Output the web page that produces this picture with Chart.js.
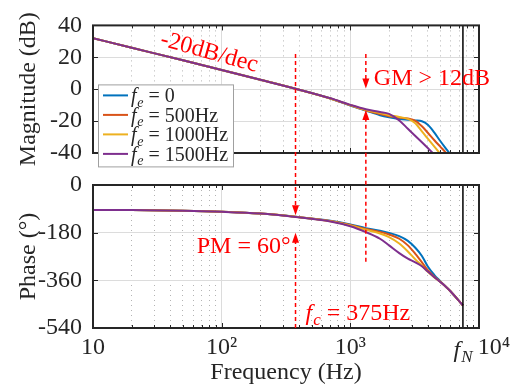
<!DOCTYPE html>
<html>
<head>
<meta charset="utf-8">
<script src="https://cdn.jsdelivr.net/npm/chart.js@4.4.0/dist/chart.umd.min.js"></script>
<style>
  html, body { margin: 0; padding: 0; background: #fff; }
  #wrap { position: relative; width: 523px; height: 391px; }
  #wrap canvas { position: absolute; left: 0; top: 0; }
</style>
</head>
<body>
<div id="wrap">
  <canvas id="magCanvas" width="523" height="391"></canvas>
  <canvas id="phaseCanvas" width="523" height="391"></canvas>
</div>
<script>
// frequency points (Hz) shared by all curves
const freqHz = [10, 20, 50, 100, 200, 375, 700, 1000, 1320, 1700, 2000, 2400, 2800, 3200, 3600, 4000, 4500, 5000, 5500, 6000, 7500];

// magnitude (dB) for each f_e
const magFe0    = [32, 26, 18.1, 12, 5.9, 0.3, -5.8, -10.2, -13.4, -16.3, -17.6, -18.7, -19.2, -19.6, -20.1, -22.3, -27.2, -32.5, -37, -41, -55];
const magFe500  = [32, 26, 18.1, 12, 5.9, 0.3, -5.8, -10.1, -13.2, -15.6, -16.9, -17.8, -18.4, -19.8, -23.2, -27.3, -32, -36, -39.6, -43, -55];
const magFe1000 = [32, 26, 18.1, 12, 5.9, 0.3, -5.8, -10, -13, -15, -16.3, -17.4, -18.6, -21.3, -26.5, -31, -36, -40.5, -44, -48, -60];
const magFe1500 = [32, 26, 18.1, 12, 5.9, 0.3, -5.7, -9.8, -12.6, -14.3, -15.5, -19.6, -24.8, -29.3, -33.3, -36.9, -41, -45, -48, -51, -60];

// phase (deg) for each f_e
const phaseFe0    = [-94, -94.5, -97, -101, -108, -120, -135, -149, -163, -173, -181, -193, -211, -237, -268, -308, -340, -363, -383, -401, -455];
const phaseFe500  = [-94, -94.5, -97, -101, -108, -120, -136, -151, -166, -177, -187, -203, -228, -260, -292, -322, -346, -365, -383, -401, -455];
const phaseFe1000 = [-94, -94.5, -97, -101, -108, -120, -137, -153, -169, -183, -197, -221, -251, -281, -305, -328, -349, -366, -383, -401, -455];
const phaseFe1500 = [-94, -94.5, -97, -101, -108, -121, -138, -156, -178, -203, -228, -257, -278, -292, -307, -327, -348, -366, -383, -401, -455];

const seriesNames = ['0', '500Hz', '1000Hz', '1500Hz'];
const seriesColors = ['#0072BD', '#D95319', '#EDB120', '#7E2F8E'];

// axis ticks
const magTicks = [-40, -20, 0, 20, 40];
const phaseTicks = [-540, -360, -180, 0];
const xDecades = [10, 100, 1000, 10000];
const xTickLabels = ['10', '10²', '10³', '     10⁴'];

// marked frequencies
const fc = 375;     // crossover
const fGM = 1320;   // gain margin check
const fN = 7500;    // Nyquist

const serif = '"Liberation Serif", "Times New Roman", serif';
const textColor = '#262626';
const red = '#ff0000';
const majorGrid = '#dcdcdc';
const minorGrid = '#b4b4b4';

// every minor/major grid position 10..10^4
const xGridTicks = [];
[10, 100, 1000].forEach(d => { for (let k = 1; k < 10; k++) xGridTicks.push(k * d); });
xGridTicks.push(10000);

const isDecade = v => xDecades.includes(v);

function freqScale(showLabels, height) {
  return {
    type: 'logarithmic',
    min: 10,
    max: 10000,
    afterBuildTicks: s => { s.ticks = xGridTicks.map(v => ({ value: v })); },
    afterFit: s => { s.height = height; },
    ticks: {
      display: showLabels,
      autoSkip: false,
      maxRotation: 0,
      minRotation: 0,
      padding: 5,
      color: textColor,
      font: { family: serif, size: 24 },
      callback: v => { const i = xDecades.indexOf(v); return i >= 0 ? xTickLabels[i] : ''; }
    },
    grid: {
      drawTicks: false,
      color: ctx => (ctx.tick && isDecade(ctx.tick.value)) ? majorGrid : minorGrid
    },
    border: {
      display: false,
      dash: ctx => (ctx.tick && !isDecade(ctx.tick.value)) ? [1, 4] : []
    },
    title: {
      display: showLabels,
      text: 'Frequency (Hz)',
      color: textColor,
      font: { family: serif, size: 24 },
      padding: { top: 0, bottom: 4 }
    }
  };
}

function valueScale(tickValues, min, max, title) {
  return {
    min: min,
    max: max,
    afterBuildTicks: s => { s.ticks = tickValues.map(v => ({ value: v })); },
    afterFit: s => { s.width = 93; },
    ticks: { padding: 11, color: textColor, font: { family: serif, size: 24 }, autoSkip: false },
    grid: { drawTicks: false, color: majorGrid },
    border: { display: false },
    title: {
      display: true,
      text: title,
      color: textColor,
      font: { family: serif, size: 24 },
      padding: { top: 14, bottom: 0 }
    }
  };
}

function makeDatasets(seriesList) {
  return seriesList.map((vals, i) => ({
    label: 'fe = ' + seriesNames[i],
    data: freqHz.map((f, j) => ({ x: f, y: vals[j] })),
    borderColor: seriesColors[i],
    borderWidth: 2,
    pointRadius: 0,
    cubicInterpolationMode: 'monotone',
    order: 4 - i
  }));
}

// italic f with a subscript, then plain text
function drawFLabel(ctx, x, base, sub, rest, size) {
  ctx.textAlign = 'left';
  ctx.textBaseline = 'alphabetic';
  ctx.font = 'italic ' + size + 'px ' + serif;
  ctx.fillText('f', x, base);
  let cx = x + ctx.measureText('f').width + size * 0.04;
  ctx.font = 'italic ' + Math.round(size * 0.7) + 'px ' + serif;
  ctx.fillText(sub, cx, base + size * 0.22);
  cx += ctx.measureText(sub).width;
  ctx.font = size + 'px ' + serif;
  ctx.fillText(rest, cx, base);
  return cx + ctx.measureText(rest).width - x;
}

function dashedArrow(ctx, x, yFrom, yTo) {
  const dir = Math.sign(yTo - yFrom);
  ctx.save();
  ctx.strokeStyle = red;
  ctx.fillStyle = red;
  ctx.lineWidth = 1.5;
  ctx.setLineDash([4, 3]);
  ctx.beginPath();
  ctx.moveTo(x, yFrom);
  ctx.lineTo(x, yTo - dir * 8);
  ctx.stroke();
  ctx.setLineDash([]);
  ctx.beginPath();
  ctx.moveTo(x, yTo);
  ctx.lineTo(x - 3.5, yTo - dir * 10);
  ctx.lineTo(x + 3.5, yTo - dir * 10);
  ctx.closePath();
  ctx.fill();
  ctx.restore();
}

// box, inner ticks and the f_N line, MATLAB style
const framePlugin = {
  id: 'frame',
  afterDatasetsDraw(chart) {
    const { ctx, chartArea: a, scales: { x, y } } = chart;
    ctx.save();
    const xn = x.getPixelForValue(fN);
    ctx.strokeStyle = '#000';
    ctx.lineWidth = 1.5;
    ctx.beginPath();
    ctx.moveTo(xn, a.top);
    ctx.lineTo(xn, a.bottom);
    ctx.stroke();

    ctx.strokeStyle = textColor;
    ctx.lineWidth = 1;
    ctx.beginPath();
    x.ticks.forEach(t => {
      const px = Math.round(x.getPixelForValue(t.value)) + 0.5;
      const len = isDecade(t.value) ? 5 : 3;
      ctx.moveTo(px, a.bottom); ctx.lineTo(px, a.bottom - len);
      ctx.moveTo(px, a.top); ctx.lineTo(px, a.top + len);
    });
    y.ticks.forEach(t => {
      const py = Math.round(y.getPixelForValue(t.value)) + 0.5;
      ctx.moveTo(a.left, py); ctx.lineTo(a.left + 5, py);
      ctx.moveTo(a.right, py); ctx.lineTo(a.right - 5, py);
    });
    ctx.stroke();

    ctx.lineWidth = 2;
    ctx.strokeRect(a.left, a.top, a.right - a.left, a.bottom - a.top);
    ctx.restore();
  }
};

const legendPlugin = {
  id: 'feLegend',
  afterDraw(chart) {
    const { ctx, chartArea: a } = chart;
    const left = a.left + 5, top = a.top + 59, w = 135, h = 82;
    ctx.save();
    ctx.fillStyle = '#fff';
    ctx.fillRect(left, top, w, h);
    ctx.strokeStyle = '#a0a0a0';
    ctx.lineWidth = 1;
    ctx.strokeRect(left + 0.5, top + 0.5, w, h);
    chart.data.datasets.forEach((ds, i) => {
      const cy = top + 11 + i * 19.5;
      ctx.strokeStyle = ds.borderColor;
      ctx.lineWidth = 2;
      ctx.beginPath();
      ctx.moveTo(left + 5, cy);
      ctx.lineTo(left + 30, cy);
      ctx.stroke();
      ctx.fillStyle = textColor;
      drawFLabel(ctx, left + 33, cy + 7, 'e', ' = ' + seriesNames[i], 20);
    });
    ctx.restore();
  }
};

const magChart = new Chart(document.getElementById('magCanvas'), {
  type: 'line',
  data: { datasets: makeDatasets([magFe0, magFe500, magFe1000, magFe1500]) },
  options: {
    responsive: false,
    animation: false,
    devicePixelRatio: 1,
    layout: { padding: { top: 10, right: 44, bottom: 238, left: 0 } },
    plugins: { legend: { display: false }, tooltip: { enabled: false } },
    scales: {
      x: freqScale(false, 0),
      y: valueScale(magTicks, -40, 40, 'Magnitude (dB)')
    }
  },
  plugins: [framePlugin, legendPlugin]
});

// dashed arrows and red notes, spanning both plots
const notesPlugin = {
  id: 'bodeNotes',
  afterDraw(chart) {
    const ctx = chart.ctx;
    const xs = chart.scales.x, yp = chart.scales.y, ym = magChart.scales.y;
    const xc = xs.getPixelForValue(fc);
    const xg = xs.getPixelForValue(fGM);

    dashedArrow(ctx, xc, ym.getPixelForValue(22), yp.getPixelForValue(-114));
    dashedArrow(ctx, xc, yp.getPixelForValue(-540), yp.getPixelForValue(-180));
    dashedArrow(ctx, xg, ym.getPixelForValue(22), ym.getPixelForValue(0.5));
    dashedArrow(ctx, xg, yp.getPixelForValue(-290), ym.getPixelForValue(-13));

    ctx.save();
    ctx.fillStyle = red;
    ctx.font = '24px ' + serif;
    // slope label
    ctx.save();
    ctx.translate(xs.getPixelForValue(80), ym.getPixelForValue(23));
    ctx.rotate(15.5 * Math.PI / 180);
    ctx.textAlign = 'center';
    ctx.textBaseline = 'middle';
    ctx.fillText('-20dB/dec', 0, 0);
    ctx.restore();

    ctx.textBaseline = 'alphabetic';
    ctx.textAlign = 'left';
    ctx.fillText('GM > 12dB', xg + 8, ym.getPixelForValue(2.5));
    ctx.textAlign = 'right';
    ctx.fillText('PM = 60°', xc - 5, yp.getPixelForValue(-255));
    drawFLabel(ctx, xc + 10, yp.getPixelForValue(-510), 'c', ' = 375Hz', 24);

    // f_N tick label
    ctx.fillStyle = textColor;
    const xn = xs.getPixelForValue(fN);
    ctx.font = 'italic 24px ' + serif;
    const wf = ctx.measureText('f').width + 12;
    drawFLabel(ctx, xn - wf / 2, chart.chartArea.bottom + 29, 'N', '', 24);
    ctx.restore();
  }
};

const phaseChart = new Chart(document.getElementById('phaseCanvas'), {
  type: 'line',
  data: { datasets: makeDatasets([phaseFe0, phaseFe500, phaseFe1000, phaseFe1500]) },
  options: {
    responsive: false,
    animation: false,
    devicePixelRatio: 1,
    layout: { padding: { top: 185, right: 44, bottom: 0, left: 0 } },
    plugins: { legend: { display: false }, tooltip: { enabled: false } },
    scales: {
      x: freqScale(true, 63),
      y: valueScale(phaseTicks, -540, 0, 'Phase (°)')
    }
  },
  plugins: [framePlugin, notesPlugin]
});
</script>
</body>
</html>
